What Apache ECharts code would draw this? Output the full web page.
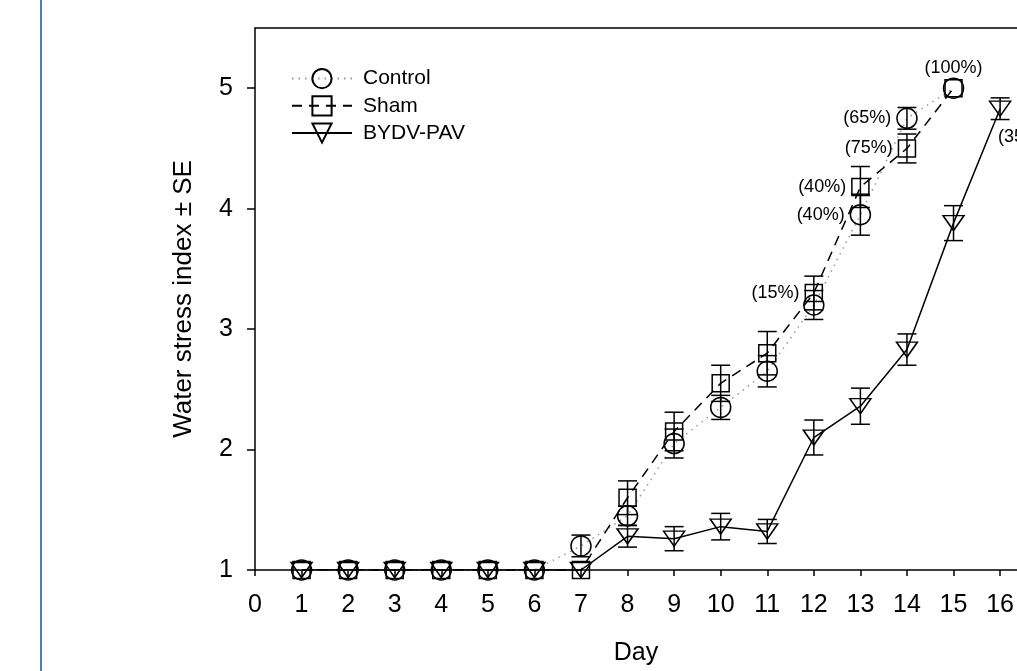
<!DOCTYPE html>
<html>
<head>
<meta charset="utf-8">
<script src="https://cdn.jsdelivr.net/npm/echarts@6/dist/echarts.min.js"></script>
<style>
  html, body { margin: 0; padding: 0; background: #fff; }
  #chart { width: 1017px; height: 671px; }
</style>
</head>
<body>
<div id="chart"></div>
<script>
// Water stress index by day
var days = [1, 2, 3, 4, 5, 6, 7, 8, 9, 10, 11, 12, 13, 14, 15, 16];
var xTicks = [0, 1, 2, 3, 4, 5, 6, 7, 8, 9, 10, 11, 12, 13, 14, 15, 16];
var yTicks = [1, 2, 3, 4, 5];

var control   = [1, 1, 1, 1, 1, 1, 1.2, 1.45, 2.05, 2.35, 2.65, 3.2, 3.95, 4.75, 5.0];
var controlSE = [0, 0, 0, 0, 0, 0, 0.09, 0.08, 0.12, 0.1, 0.13, 0.12, 0.17, 0.09, 0];
var controlNotes = ['', '', '', '', '', '', '', '', '', '', '', '', '(40%)', '(65%)', ''];

var sham   = [1, 1, 1, 1, 1, 1, 1, 1.6, 2.15, 2.55, 2.8, 3.3, 4.18, 4.5, 5.0];
var shamSE = [0, 0, 0, 0, 0, 0, 0, 0.14, 0.16, 0.15, 0.18, 0.14, 0.17, 0.12, 0];
var shamNotes = ['', '', '', '', '', '', '', '', '', '', '', '(15%)', '(40%)', '(75%)', '(100%)'];

var bydv   = [1, 1, 1, 1, 1, 1, 1, 1.28, 1.26, 1.36, 1.32, 2.1, 2.36, 2.83, 3.88, 4.83];
var bydvSE = [0, 0, 0, 0, 0, 0, 0, 0.09, 0.1, 0.11, 0.1, 0.145, 0.15, 0.13, 0.145, 0.09];
var bydvNotes = ['', '', '', '', '', '', '', '', '', '', '', '', '', '', '', '(35%)'];

var FONT = '"Liberation Sans", Arial, sans-serif';

// points + note labels
function points(vals, notes) {
    return vals.map(function(v, i) {
        var item = { value: [days[i], v] };
        var n = notes[i];
        if (n) {
            var lab = { show: true, formatter: n, position: 'left', distance: 5 };
            if (n == '(100%)') { lab.position = 'top'; lab.distance = 2; }
            if (n == '(35%)') { lab.position = 'bottom'; lab.align = 'left'; lab.offset = [-2, 6]; }
            item.label = lab;
        }
        return item;
    });
}

function bars(vals, se) {
    var out = [];
    vals.forEach(function(v, i) {
        if (se[i] > 0) out.push([days[i], v - se[i], v + se[i]]);
    });
    return out;
}

function renderBar(params, api) {
    var x = api.value(0);
    var top = api.coord([x, api.value(2)]);
    var bot = api.coord([x, api.value(1)]);
    var w = 9.5;
    var st = { stroke: '#000', lineWidth: 1.5 };
    return {
        type: 'group',
        children: [
            { type: 'line', shape: { x1: top[0], y1: top[1], x2: bot[0], y2: bot[1] }, style: st },
            { type: 'line', shape: { x1: top[0] - w, y1: top[1], x2: top[0] + w, y2: top[1] }, style: st },
            { type: 'line', shape: { x1: bot[0] - w, y1: bot[1], x2: bot[0] + w, y2: bot[1] }, style: st }
        ]
    };
}

var chart = echarts.init(document.getElementById('chart'));

var option = {
    animation: false,
    backgroundColor: '#fff',
    textStyle: { fontFamily: FONT, color: '#000' },
    grid: { left: 255, top: 28, right: 0, bottom: 100 },
    legend: {
        orient: 'vertical',
        left: 286, top: 63,
        itemWidth: 60, itemHeight: 24, itemGap: 6,
        data: ['Control', 'Sham', 'BYDV-PAV'],
        formatter: function(name) { return '{t|' + name + '}'; },
        textStyle: {
            fontFamily: FONT, fontSize: 21, color: '#000',
            rich: { t: { fontFamily: FONT, fontSize: 21, color: '#000', padding: [0, 0, 0, 6] } }
        }
    },
    xAxis: [{
        type: 'value', min: 0, max: 16.36, interval: 1,
        name: 'Day', nameLocation: 'middle', nameGap: 71,
        nameTextStyle: { fontFamily: FONT, fontSize: 25, color: '#000' },
        axisLine: { lineStyle: { color: '#000', width: 1.5 } },
        axisTick: { show: true, length: 6, customValues: xTicks, lineStyle: { color: '#000', width: 1.5 } },
        axisLabel: { customValues: xTicks, margin: 23, fontFamily: FONT, fontSize: 25, color: '#000' },
        splitLine: { show: false }
    }, {
        // top frame line
        type: 'value', position: 'top', min: 0, max: 16.36,
        axisLine: { show: true, lineStyle: { color: '#000', width: 1.5 } },
        axisTick: { show: false }, axisLabel: { show: false }, splitLine: { show: false }
    }],
    yAxis: {
        type: 'value', min: 1, max: 5.5, interval: 1,
        name: 'Water stress index \u00b1 SE', nameLocation: 'middle', nameGap: 58,
        nameTextStyle: { fontFamily: FONT, fontSize: 26, color: '#000' },
        axisLine: { lineStyle: { color: '#000', width: 1.5 } },
        axisTick: { show: true, length: 8, customValues: yTicks, lineStyle: { color: '#000', width: 1.5 } },
        axisLabel: { customValues: yTicks, margin: 22, fontFamily: FONT, fontSize: 25, color: '#000' },
        splitLine: { show: false }
    },
    graphic: [{
        type: 'rect', left: 40, top: 0, z: 10,
        shape: { width: 2, height: 671 },
        style: { fill: '#4a7ebb' }
    }],
    series: [
        {
            name: 'Control', type: 'line',
            data: points(control, controlNotes),
            symbol: 'circle', symbolSize: 20,
            lineStyle: { color: '#999', width: 1.5, type: [1.5, 5] },
            itemStyle: { color: 'transparent', borderColor: '#000', borderWidth: 1.5 },
            label: { fontFamily: FONT, fontSize: 18, color: '#000' },
            z: 3
        },
        {
            name: 'Sham', type: 'line',
            data: points(sham, shamNotes),
            symbol: 'rect', symbolSize: 17,
            lineStyle: { color: '#000', width: 1.5, type: [10, 7] },
            itemStyle: { color: 'transparent', borderColor: '#000', borderWidth: 1.5 },
            label: { fontFamily: FONT, fontSize: 18, color: '#000' },
            z: 3
        },
        {
            name: 'BYDV-PAV', type: 'line',
            data: points(bydv, bydvNotes),
            symbol: 'path://M0,0L20,0L10,14Z', symbolSize: [21, 15],
            lineStyle: { color: '#000', width: 1.5 },
            itemStyle: { color: 'transparent', borderColor: '#000', borderWidth: 1.5 },
            label: { fontFamily: FONT, fontSize: 18, color: '#000' },
            z: 3
        },
        { type: 'custom', renderItem: renderBar, data: bars(control, controlSE), encode: { x: 0, y: [1, 2] }, z: 4 },
        { type: 'custom', renderItem: renderBar, data: bars(sham, shamSE), encode: { x: 0, y: [1, 2] }, z: 4 },
        { type: 'custom', renderItem: renderBar, data: bars(bydv, bydvSE), encode: { x: 0, y: [1, 2] }, z: 4 }
    ]
};

chart.setOption(option);
</script>
</body>
</html>
